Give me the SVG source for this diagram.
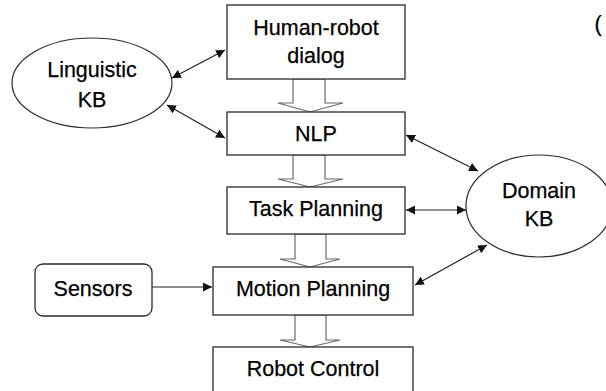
<svg xmlns="http://www.w3.org/2000/svg" width="606" height="391" viewBox="0 0 606 391">
<style>
.box{fill:#fff;stroke:#2a2a2a;stroke-width:1.3}
.ell{fill:#fff;stroke:#2a2a2a;stroke-width:1.2}
.blk{fill:#fff;stroke:#6a6a6a;stroke-width:1.2;stroke-linejoin:miter}
.t{font-family:"Liberation Sans",Arial,sans-serif;font-size:21.5px;fill:#000;stroke:#000;stroke-width:0.25;text-anchor:middle}
.c{stroke:#222;stroke-width:1.2;fill:none}
</style>
<defs>
<marker id="ah" viewBox="0 0 10 10" refX="10" refY="5" markerWidth="9" markerHeight="9" markerUnits="userSpaceOnUse" orient="auto-start-reverse">
<path d="M0,0 L10,5 L0,10 z" fill="#111"/>
</marker>
</defs>
<rect width="606" height="391" fill="#fff"/>
<g id="connectors">
<line class="c" x1="172" y1="78" x2="225" y2="50" marker-start="url(#ah)" marker-end="url(#ah)"/>
<line class="c" x1="167" y1="105" x2="225" y2="138" marker-start="url(#ah)" marker-end="url(#ah)"/>
<line class="c" x1="406" y1="135" x2="478" y2="171" marker-start="url(#ah)" marker-end="url(#ah)"/>
<line class="c" x1="406" y1="210" x2="466" y2="210" marker-start="url(#ah)" marker-end="url(#ah)"/>
<line class="c" x1="415" y1="285" x2="487" y2="245" marker-start="url(#ah)" marker-end="url(#ah)"/>
<line class="c" x1="152" y1="287" x2="212" y2="287" marker-end="url(#ah)"/>
<polygon class="blk" points="293,79 325,79 325,103 343,103 310,112 278,103 293,103"/>
<polygon class="blk" points="293,155 325,155 325,179 343,179 310,187 278,179 293,179"/>
<polygon class="blk" points="295,234 326,234 326,259 340,259 310,267 280,259 295,259"/>
<polygon class="blk" points="295,315 326,315 326,340 340,340 310,347 280,340 295,340"/>
</g>
<g id="dialog">
<rect class="box" x="227" y="5" width="178" height="74"/>
<text class="t" x="316" y="35">Human-robot</text>
<text class="t" x="316" y="63">dialog</text>
</g>
<g id="nlp">
<rect class="box" x="227" y="112" width="178" height="43"/>
<text class="t" x="316" y="141">NLP</text>
</g>
<g id="task">
<rect class="box" x="227" y="187" width="178" height="47"/>
<text class="t" x="316" y="216">Task Planning</text>
</g>
<g id="motion">
<rect class="box" x="213" y="267" width="200" height="48"/>
<text class="t" x="313" y="296">Motion Planning</text>
</g>
<g id="control">
<rect class="box" x="213" y="347" width="200" height="60"/>
<text class="t" x="313" y="376">Robot Control</text>
</g>
<g id="sensors">
<rect class="box" x="35" y="264" width="117" height="52" rx="8"/>
<text class="t" x="93" y="296">Sensors</text>
</g>
<g id="linguistic">
<ellipse class="ell" cx="92" cy="83" rx="80" ry="45"/>
<text class="t" x="92" y="77">Linguistic</text>
<text class="t" x="92" y="107">KB</text>
</g>
<g id="domain">
<ellipse class="ell" cx="539" cy="206" rx="73" ry="51"/>
<text class="t" x="539" y="198">Domain</text>
<text class="t" x="539" y="226">KB</text>
</g>
<text class="t" x="598" y="31">(</text>
</svg>
